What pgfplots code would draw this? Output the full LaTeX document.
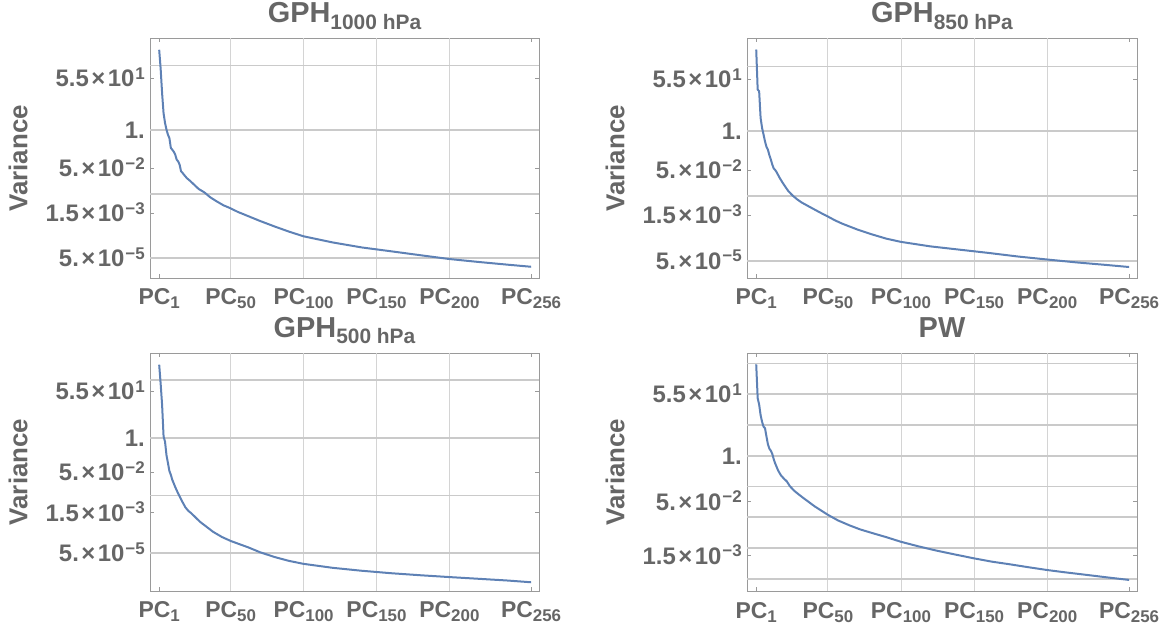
\documentclass[border=0pt]{standalone}
\usepackage{fontspec}
\setmainfont{Liberation Sans}
\usepackage{pgfplots}
\pgfplotsset{compat=1.18}
\definecolor{txt}{HTML}{666666}
\definecolor{fr}{HTML}{9A9A9A}
\definecolor{hg}{HTML}{CACACA}
\definecolor{vg}{HTML}{D4D4D4}
\definecolor{ln}{HTML}{5E81B5}
\newcommand{\sci}[2]{#1\kern2.5bp×\kern2.5bp10\kern1bp\raisebox{7.5bp}{\fontsize{17}{17}\selectfont #2}}
\newcommand{\pc}[1]{PC\raisebox{-4bp}{\fontsize{17}{17}\selectfont #1}}
\newcommand{\ttl}[2]{#1\raisebox{-6.7bp}{\fontsize{21}{21}\selectfont #2}}
\pgfplotsset{
 panel/.style={
  scale only axis, anchor=north west,
  xmin=-5.3, xmax=261.4,
  axis line style={fr, line width=0.9bp},
  tick style={fr, line width=0.9bp},
  tick align=inside, major tick length=4bp, minor tick length=0pt,
  xtick={1,50,100,150,200,256},
  xticklabels={\pc{1},\pc{50},\pc{100},\pc{150},\pc{200},\pc{256}},
  xticklabel style={anchor=base, inner sep=0pt, yshift=-27bp, font=\fontsize{23}{23}\selectfont\bfseries, text=txt},
  yticklabel style={anchor=base east, inner sep=0pt, xshift=-5bp, yshift=-8.5bp, font=\fontsize{24}{24}\selectfont\bfseries, text=txt},
  extra x ticks={50,100,150,200},
  extra x tick labels={},
  extra x tick style={xmajorgrids=true, major tick length=0pt, major grid style={vg, line width=0.9bp}},
  extra y tick labels={},
  extra y tick style={ymajorgrids=true, major tick length=0pt, major grid style={hg, line width=1.7bp}},
  title style={at={(0.5,1)}, anchor=base, yshift=10bp, inner sep=0pt, font=\fontsize{29}{29}\selectfont\bfseries, text=txt},
  ylabel={Variance},
  every axis y label/.style={at={(0,0.5)}, xshift=-132bp, rotate=90, anchor=center, inner sep=0pt, font=\fontsize{26}{26}\selectfont\bfseries, text=txt},
 },
 crv/.style={ln, line width=2bp, line join=round},
}
\begin{document}
\begin{tikzpicture}
\path[use as bounding box] (0,0) rectangle (1166bp,628bp);
% GPH 1000 hPa
\begin{axis}[ymode=log, panel, at={(150bp,589.5bp)}, width=389bp, height=239.5bp,
  ymin=9.77e-6, ymax=1202,
  title={\ttl{GPH}{1000 hPa}},
  ytick={54.598,1,0.049787,0.0015034,4.54e-5},
  yticklabels={\sci{5.5}{1},1.,\sci{5.}{−2},\sci{1.5}{−3},\sci{5.}{−5}},
  extra y ticks={148.41,1,0.0067379,4.54e-5}]
\addplot[crv] coordinates {
(1,500) (2,115) (3,17) (4,3.6) (5,1.7) (6,1.0) (7,0.68) (8,0.52) (9,0.24) (10,0.21)
(11,0.18) (12,0.144) (13,0.097) (14,0.085) (15,0.066) (16,0.039) (17,0.035) (18,0.030)
(20,0.023) (22,0.019) (25,0.0138) (28,0.010) (32,0.0076) (36,0.0052) (40,0.0039)
(45,0.0028) (50,0.0022) (55,0.00166) (60,0.00132) (70,8.3e-4) (80,5.4e-4) (90,3.6e-4)
(100,2.5e-4) (120,1.55e-4) (140,1.05e-4) (160,7.8e-5) (180,5.75e-5) (200,4.27e-5)
(220,3.4e-5) (240,2.75e-5) (256,2.34e-5)};
\end{axis}
% GPH 850 hPa
\begin{axis}[ymode=log, panel, at={(747bp,589.5bp)}, width=390bp, height=239.5bp,
  ymin=1.2e-5, ymax=1288,
  title={\ttl{GPH}{850 hPa}},
  ytick={54.598,1,0.049787,0.0015034,4.54e-5},
  yticklabels={\sci{5.5}{1},1.,\sci{5.}{−2},\sci{1.5}{−3},\sci{5.}{−5}},
  extra y ticks={148.41,1,0.0067379,4.54e-5}]
\addplot[crv] coordinates {
(1,550) (2,25) (3,22) (4,2.8) (5,1.3) (6,0.78) (7,0.46) (8,0.30) (9,0.24) (10,0.158)
(11,0.112) (12,0.076) (13,0.056) (14,0.050) (15,0.042) (17,0.0275) (19,0.019) (21,0.0135)
(23,0.0098) (26,0.0069) (29,0.0052) (32,0.0041) (36,0.0032) (40,0.0025) (46,0.00174)
(50,0.00138) (55,0.00102) (60,7.9e-4) (70,5.1e-4) (80,3.5e-4) (90,2.5e-4) (100,1.95e-4)
(120,1.38e-4) (140,1.07e-4) (160,8.3e-5) (180,6.3e-5) (200,5.0e-5) (220,4.0e-5)
(240,3.3e-5) (256,2.8e-5)};
\end{axis}
% GPH 500 hPa
\begin{axis}[ymode=log, panel, at={(150bp,275bp)}, width=389bp, height=238bp,
  ymin=1.74e-6, ymax=1514,
  title={\ttl{GPH}{500 hPa}},
  ytick={54.598,1,0.049787,0.0015034,4.54e-5},
  yticklabels={\sci{5.5}{1},1.,\sci{5.}{−2},\sci{1.5}{−3},\sci{5.}{−5}},
  extra y ticks={148.41,1,0.0067379,4.54e-5}]
\addplot[crv] coordinates {
(1,550) (2,107) (3,17) (4,1.12) (5,0.71) (6,0.22) (7,0.112) (8,0.056) (9,0.040) (10,0.026)
(11,0.019) (12,0.014) (13,0.0105) (15,0.0062) (17,0.0038) (19,0.0024) (21,0.00178)
(23,0.00145) (26,0.0010) (29,6.9e-4) (33,4.7e-4) (38,2.9e-4) (44,1.86e-4) (50,1.32e-4)
(56,1.0e-4) (62,7.6e-5) (70,5.0e-5) (80,3.3e-5) (90,2.35e-5) (100,1.82e-5) (120,1.29e-5)
(140,1.0e-5) (160,8.1e-6) (180,6.8e-6) (200,5.8e-6) (220,5.0e-6) (240,4.3e-6) (256,3.7e-6)};
\end{axis}
% PW
\begin{axis}[ymode=log, panel, at={(747bp,275bp)}, width=390bp, height=238bp,
  ymin=1.51e-4, ymax=794,
  title={PW},
  ytick={54.598,1,0.049787,0.0015034},
  yticklabels={\sci{5.5}{1},1.,\sci{5.}{−2},\sci{1.5}{−3}},
  extra y ticks={403.43,54.598,7.389,1,0.13534,0.018316,0.0024788,3.3546e-4}]
\addplot[crv] coordinates {
(1,380) (2,42) (3,28) (4,14) (5,9.1) (6,6.6) (7,6.0) (8,3.5) (9,2.1) (10,1.58)
(11,1.38) (12,1.12) (13,0.79) (14,0.60) (16,0.38) (18,0.275) (20,0.224) (22,0.186)
(24,0.138) (27,0.102) (30,0.081) (33,0.065) (37,0.049) (41,0.037) (45,0.029) (50,0.0214)
(57,0.0148) (65,0.0107) (72,0.0083) (80,0.0066) (90,0.0050) (100,0.0037) (112,0.00275)
(124,0.0021) (137,0.00162) (150,0.00126) (162,0.00102) (175,8.5e-4) (187,7.1e-4)
(200,5.9e-4) (212,5.1e-4) (225,4.4e-4) (240,3.7e-4) (256,3.1e-4)};
\end{axis}
\end{tikzpicture}
\end{document}
